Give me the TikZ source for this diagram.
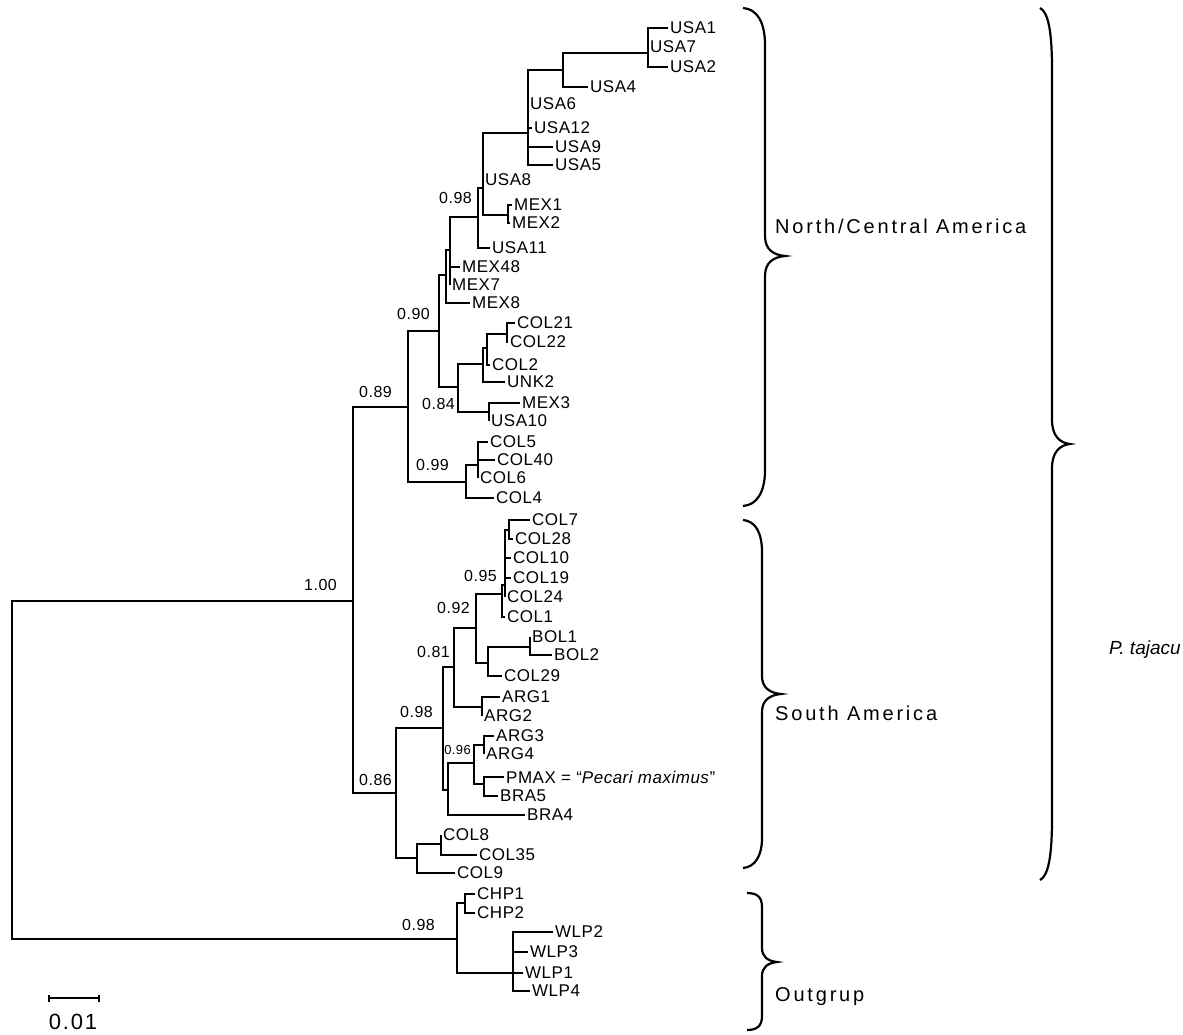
\documentclass[tikz,border=0pt]{standalone}
\usepackage{fontspec}
\setmainfont{Liberation Sans}
\newfontfamily\taxfont[LetterSpace=3]{Liberation Sans}
\newfontfamily\grpfont[LetterSpace=14]{Liberation Sans}
\newfontfamily\barfont[LetterSpace=8]{Liberation Sans}
\usepackage{tikz}
\usetikzlibrary{arrows.meta}

\begin{document}
\begin{tikzpicture}[x=1pt,y=-1pt,
	br/.style={line width=2pt},
	brace/.style={line width=2.2pt},
	leaf/.style={anchor=west,inner sep=2pt,font=\taxfont\fontsize{17}{17}\selectfont},
	supp/.style={anchor=east,inner sep=0pt,font=\taxfont\fontsize{16}{16}\selectfont},
	grp/.style={anchor=west,inner sep=0pt,font=\grpfont\fontsize{20}{20}\selectfont}]
	\useasboundingbox (0,0) rectangle (1183,1035);
	%\draw[help lines] (0,0) grid[step=50] (1183,1035);

	% internal nodes
	\coordinate (root) at (12,770);
	\coordinate (ing) at (353,601);
	\coordinate (nca) at (408,407);
	\coordinate (n90) at (439,331);
	\coordinate (n446) at (446,275);
	\coordinate (n450) at (450,250);
	\coordinate (n98a) at (478,217);
	\coordinate (n483) at (483,188);
	\coordinate (nmex) at (508,215);
	\coordinate (nusa) at (528,133);
	\coordinate (n563) at (563,70);
	\coordinate (n648) at (648,53);
	\coordinate (n84) at (458,387);
	\coordinate (n483b) at (483,364);
	\coordinate (n487) at (487,348);
	\coordinate (n507) at (507,334);
	\coordinate (n489) at (489,412);
	\coordinate (n99) at (466,482);
	\coordinate (n478) at (478,465);
	\coordinate (nsa) at (396,793);
	\coordinate (n98b) at (443,728);
	\coordinate (n81) at (454,667);
	\coordinate (n92) at (476,628);
	\coordinate (n95) at (502,594);
	\coordinate (n505) at (505,585);
	\coordinate (n509) at (509,530);
	\coordinate (n488) at (488,663);
	\coordinate (n530) at (530,647);
	\coordinate (n482) at (482,707);
	\coordinate (n448) at (448,790);
	\coordinate (n474) at (474,763);
	\coordinate (n484a) at (484,745);
	\coordinate (n484b) at (484,784);
	\coordinate (n417) at (417,858);
	\coordinate (n441) at (441,844);
	\coordinate (nog) at (457,939);
	\coordinate (n465) at (465,903);
	\coordinate (n513) at (513,973);

	% taxa
	\node[leaf] (USA1) at (668,28) {USA1};
	\node[leaf] (USA7) at (648,47) {USA7};
	\node[leaf] (USA2) at (668,67) {USA2};
	\node[leaf] (USA4) at (588,87) {USA4};
	\node[leaf] (USA6) at (528,104) {USA6};
	\node[leaf] (USA12) at (532,128) {USA12};
	\node[leaf] (USA9) at (553,147) {USA9};
	\node[leaf] (USA5) at (553,165) {USA5};
	\node[leaf] (USA8) at (483,180) {USA8};
	\node[leaf] (MEX1) at (512,205) {MEX1};
	\node[leaf] (MEX2) at (510,223) {MEX2};
	\node[leaf] (USA11) at (490,248) {USA11};
	\node[leaf] (MEX48) at (460,267) {MEX48};
	\node[leaf] (MEX7) at (450,285) {MEX7};
	\node[leaf] (MEX8) at (470,303) {MEX8};
	\node[leaf] (COL21) at (515,323) {COL21};
	\node[leaf] (COL22) at (508,342) {COL22};
	\node[leaf] (COL2) at (490,365) {COL2};
	\node[leaf] (UNK2) at (505,382) {UNK2};
	\node[leaf] (MEX3) at (520,403) {MEX3};
	\node[leaf] (USA10) at (489,421) {USA10};
	\node[leaf] (COL5) at (488,442) {COL5};
	\node[leaf] (COL40) at (495,460) {COL40};
	\node[leaf] (COL6) at (478,478) {COL6};
	\node[leaf] (COL4) at (494,498) {COL4};
	\node[leaf] (COL7) at (530,520) {COL7};
	\node[leaf] (COL28) at (513,539) {COL28};
	\node[leaf] (COL10) at (511,558) {COL10};
	\node[leaf] (COL19) at (511,578) {COL19};
	\node[leaf] (COL24) at (505,597) {COL24};
	\node[leaf] (COL1) at (505,617) {COL1};
	\node[leaf] (BOL1) at (530,637) {BOL1};
	\node[leaf] (BOL2) at (552,655) {BOL2};
	\node[leaf] (COL29) at (502,676) {COL29};
	\node[leaf] (ARG1) at (500,697) {ARG1};
	\node[leaf] (ARG2) at (482,716) {ARG2};
	\node[leaf] (ARG3) at (494,736) {ARG3};
	\node[leaf] (ARG4) at (484,754) {ARG4};
	\node[leaf] (PMAX) at (504,777) {PMAX = “\textit{Pecari maximus}”};
	\node[leaf] (BRA5) at (498,796) {BRA5};
	\node[leaf] (BRA4) at (525,815) {BRA4};
	\node[leaf] (COL8) at (441,835) {COL8};
	\node[leaf] (COL35) at (477,855) {COL35};
	\node[leaf] (COL9) at (455,873) {COL9};
	\node[leaf] (CHP1) at (475,894) {CHP1};
	\node[leaf] (CHP2) at (475,913) {CHP2};
	\node[leaf] (WLP2) at (553,932) {WLP2};
	\node[leaf] (WLP3) at (528,952) {WLP3};
	\node[leaf] (WLP1) at (523,973) {WLP1};
	\node[leaf] (WLP4) at (530,991) {WLP4};

	% branches
	\draw[br] (root) |- (ing) (root) |- (nog);
	\draw[br] (ing) |- (nca) (ing) |- (nsa);
	\draw[br] (nca) |- (n90) (nca) |- (n99);
	\draw[br] (n90) |- (n446) (n90) |- (n84);
	\draw[br] (n446) |- (n450) (n446) |- (MEX8.west);
	\draw[br] (n450) |- (n98a) (n450) |- (MEX48.west) (n450) |- (MEX7.west);
	\draw[br] (n98a) |- (n483) (n98a) |- (USA11.west);
	\draw[br] (n483) |- (nusa) (n483) |- (USA8.west) (n483) |- (nmex);
	\draw[br] (nmex) |- (MEX1.west) (nmex) |- (MEX2.west);
	\draw[br] (nusa) |- (n563) (nusa) |- (USA6.west) (nusa) |- (USA12.west)
		(nusa) |- (USA9.west) (nusa) |- (USA5.west);
	\draw[br] (n563) |- (n648) (n563) |- (USA4.west);
	\draw[br] (n648) |- (USA1.west) (n648) |- (USA7.west) (n648) |- (USA2.west);
	\draw[br] (n84) |- (n483b) (n84) |- (n489);
	\draw[br] (n483b) |- (n487) (n483b) |- (UNK2.west);
	\draw[br] (n487) |- (n507) (n487) |- (COL2.west);
	\draw[br] (n507) |- (COL21.west) (n507) |- (COL22.west);
	\draw[br] (n489) |- (MEX3.west) (n489) |- (USA10.west);
	\draw[br] (n99) |- (n478) (n99) |- (COL4.west);
	\draw[br] (n478) |- (COL5.west) (n478) |- (COL40.west) (n478) |- (COL6.west);
	\draw[br] (nsa) |- (n98b) (nsa) |- (n417);
	\draw[br] (n98b) |- (n81) (n98b) |- (n448);
	\draw[br] (n81) |- (n92) (n81) |- (n482);
	\draw[br] (n92) |- (n95) (n92) |- (n488);
	\draw[br] (n95) |- (n505) (n95) |- (COL1.west);
	\draw[br] (n505) |- (n509) (n505) |- (COL10.west) (n505) |- (COL19.west) (n505) |- (COL24.west);
	\draw[br] (n509) |- (COL7.west) (n509) |- (COL28.west);
	\draw[br] (n488) |- (n530) (n488) |- (COL29.west);
	\draw[br] (n530) |- (BOL1.west) (n530) |- (BOL2.west);
	\draw[br] (n482) |- (ARG1.west) (n482) |- (ARG2.west);
	\draw[br] (n448) |- (n474) (n448) |- (BRA4.west);
	\draw[br] (n474) |- (n484a) (n474) |- (n484b);
	\draw[br] (n484a) |- (ARG3.west) (n484a) |- (ARG4.west);
	\draw[br] (n484b) |- (PMAX.west) (n484b) |- (BRA5.west);
	\draw[br] (n417) |- (n441) (n417) |- (COL9.west);
	\draw[br] (n441) |- (COL8.west) (n441) |- (COL35.west);
	\draw[br] (nog) |- (n465) (nog) |- (n513);
	\draw[br] (n465) |- (CHP1.west) (n465) |- (CHP2.west);
	\draw[br] (n513) |- (WLP2.west) (n513) |- (WLP3.west) (n513) |- (WLP1.west) (n513) |- (WLP4.west);

	% support values
	\node[supp] (s100) at (337,585) {1.00};
	\node[supp] (s89) at (392,392) {0.89};
	\node[supp] (s90) at (430,314) {0.90};
	\node[supp] (s98a) at (472,198) {0.98};
	\node[supp] (s84) at (455,404) {0.84};
	\node[supp] (s99) at (449,465) {0.99};
	\node[supp] (s95) at (497,576) {0.95};
	\node[supp] (s92) at (470,608) {0.92};
	\node[supp] (s81) at (450,652) {0.81};
	\node[supp] (s98b) at (433,712) {0.98};
	\node[supp,font=\taxfont\fontsize{13}{13}\selectfont] (s96) at (471,750) {0.96};
	\node[supp] (s86) at (392,780) {0.86};
	\node[supp] (s98c) at (435,925) {0.98};

	% braces
	\draw[brace] (743,8) .. controls (757,9) and (765,22) .. (765,45) -- (765,236)
		.. controls (765,250) and (774,255) .. (785,256) .. controls (774,257) and (765,262) .. (765,276)
		-- (765,470) .. controls (765,492) and (757,505) .. (743,506);
	\draw[brace] (743,520) .. controls (755,521) and (762,532) .. (762,552) -- (762,676)
		.. controls (762,688) and (770,693) .. (781,694) .. controls (770,695) and (762,700) .. (762,712)
		-- (762,838) .. controls (762,856) and (755,867) .. (743,868);
	\draw[brace] (747,893) .. controls (757,893) and (762,897) .. (762,907) -- (762,948)
		.. controls (762,957) and (768,961) .. (777,962) .. controls (768,963) and (762,967) .. (762,976)
		-- (762,1016) .. controls (762,1026) and (757,1030) .. (747,1030);
	\draw[brace] (1040,8) .. controls (1048,12) and (1052,30) .. (1052,70) -- (1052,420)
		.. controls (1052,436) and (1060,443) .. (1070,444) .. controls (1060,445) and (1052,452) .. (1052,468)
		-- (1052,818) .. controls (1052,858) and (1048,876) .. (1040,880);

	% group labels
	\node[grp] (gnca) at (775,226) {North/Central America};
	\node[grp] (gsa) at (775,713) {South America};
	\node[grp] (gout) at (775,997) {Outgrup};
	\node[anchor=west,inner sep=0pt,font=\fontsize{19}{19}\selectfont\itshape] (gtaj) at (1109,650) {P. tajacu};

	% scale bar
	\coordinate (sbl) at (48,998);
	\coordinate (sbr) at (100,998);
	\draw[br,{Bar[width=7pt]}-{Bar[width=7pt]}] (sbl) -- (sbr);
	\node[inner sep=0pt,font=\barfont\fontsize{22}{22}\selectfont] (sbt) at (73,1022) {0.01};
\end{tikzpicture}
\end{document}
